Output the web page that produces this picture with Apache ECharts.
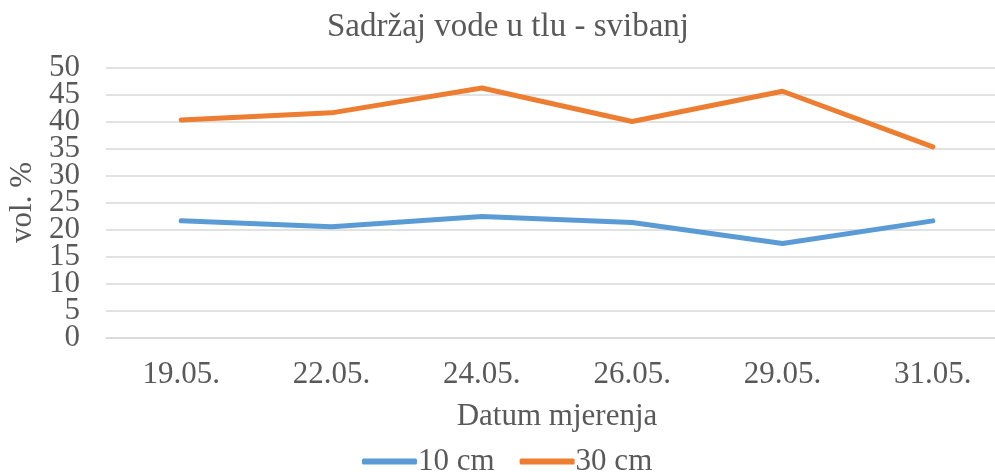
<!DOCTYPE html>
<html>
<head>
<meta charset="utf-8">
<script src="https://cdn.jsdelivr.net/npm/echarts@6/dist/echarts.min.js"></script>
<style>
  html, body { margin: 0; padding: 0; background: #fff; }
  #chart { width: 995px; height: 472px; }
</style>
</head>
<body>
<div id="chart"></div>
<script>
// datumi mjerenja
var dates = ['19.05.', '22.05.', '24.05.', '26.05.', '29.05.', '31.05.'];
// sadržaj vode (vol. %)
var cm10 = [21.6, 20.5, 22.4, 21.3, 17.4, 21.6];
var cm30 = [40.3, 41.6, 46.2, 40.0, 45.6, 35.3];
var seriesNames = ['10 cm', '30 cm'];

var font = 'Liberation Serif';
var textColor = '#595959';

var yLabel = {fontFamily: font, fontSize: 31, color: textColor, margin: 26};

var option = {
    animation: false,
    title: {
        text: 'Sadržaj vode u tlu - svibanj',
        left: 322,
        top: 6,
        textStyle: {
            fontFamily: font,
            fontSize: 33,
            fontWeight: 'normal',
            color: textColor
        }
    },
    legend: {
        data: seriesNames,
        left: 357,
        top: 441,
        icon: 'roundRect',
        itemWidth: 55,
        itemHeight: 6,
        itemGap: 25,
        textStyle: {
            fontFamily: font,
            fontSize: 31,
            color: textColor,
            padding: [0, 0, 0, -4]
        }
    },
    grid: {
        left: 106,
        top: 67.5,
        width: 902,
        height: 270,
        outerBoundsMode: 'none'
    },
    xAxis: {
        type: 'category',
        data: dates,
        name: 'Datum mjerenja',
        nameLocation: 'middle',
        nameGap: 64,
        nameTextStyle: {fontFamily: font, fontSize: 31, color: textColor},
        axisLine: {lineStyle: {color: '#d9d9d9', width: 1.5}},
        axisTick: {show: false},
        axisLabel: {fontFamily: font, fontSize: 31, color: textColor, margin: 22}
    },
    yAxis: [
        {
            // mreža i oznake 5..45 (0 i 50 crta druga os, da se ne sakriju)
            type: 'value',
            position: 'left',
            min: 0,
            max: 50,
            interval: 5,
            name: 'vol. %',
            nameLocation: 'middle',
            nameGap: 68,
            nameTextStyle: {fontFamily: font, fontSize: 31, color: textColor},
            axisLine: {show: false},
            axisTick: {show: false},
            axisLabel: Object.assign({
                formatter: function (v) { return (v === 0 || v === 50) ? '' : String(v); }
            }, yLabel),
            splitLine: {lineStyle: {color: '#d9d9d9', width: 1.5}}
        },
        {
            type: 'value',
            position: 'left',
            min: 0,
            max: 50,
            interval: 50,
            axisLine: {show: false},
            axisTick: {show: false},
            axisLabel: yLabel,
            splitLine: {show: false}
        }
    ],
    series: [
        {
            name: seriesNames[0],
            type: 'line',
            data: cm10,
            symbol: 'none',
            color: '#5b9bd5',
            lineStyle: {width: 5, cap: 'round', join: 'round'}
        },
        {
            name: seriesNames[1],
            type: 'line',
            data: cm30,
            symbol: 'none',
            color: '#ed7d31',
            lineStyle: {width: 5, cap: 'round', join: 'round'}
        }
    ]
};

echarts.init(document.getElementById('chart')).setOption(option);
</script>
</body>
</html>
